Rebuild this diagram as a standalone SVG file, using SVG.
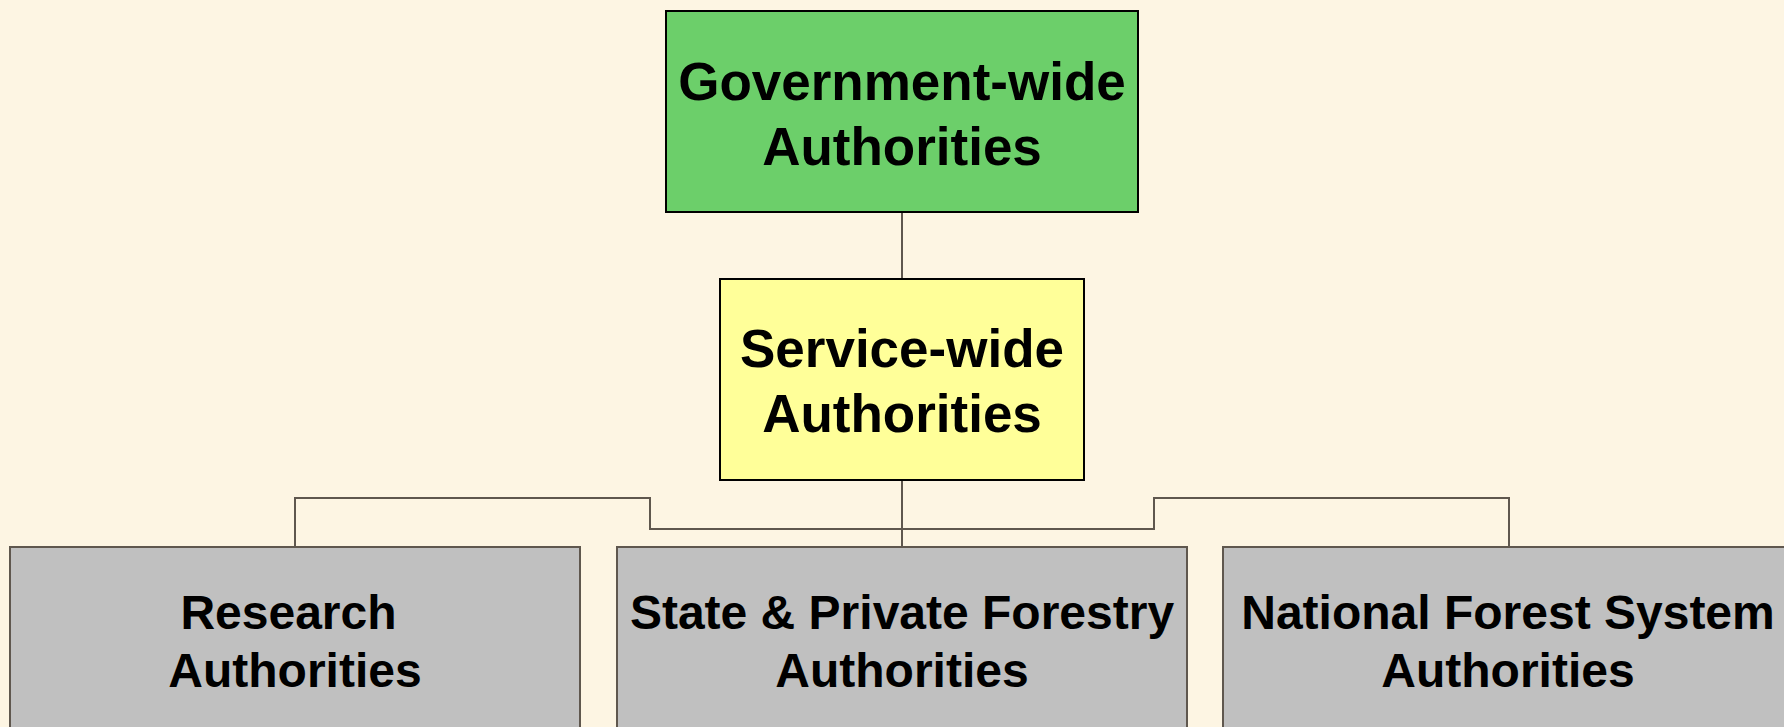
<svg xmlns="http://www.w3.org/2000/svg" width="1784" height="727" viewBox="0 0 1784 727">
<style>
.bg{fill:#fdf5e3}
.box{stroke-width:2}
.gov{fill:#6ccf6a;stroke:#000}
.svc{fill:#ffff99;stroke:#000}
.sub{fill:#c0c0c0;stroke:#5f574e}
.lbl{font-family:"Liberation Sans",Arial,sans-serif;font-weight:bold;fill:#000;text-anchor:middle}
.big{font-size:53px}
.small{font-size:48px}
.conn{fill:none;stroke:#5f574e;stroke-width:2}
</style>
<rect class="bg" x="0" y="0" width="1784" height="727"/>
<g id="connectors">
<path class="conn" d="M902,212 V279"/>
<path class="conn" d="M902,480 V547"/>
<path class="conn" d="M902,529 H650 V498 H295 V547"/>
<path class="conn" d="M902,529 H1154 V498 H1509 V547"/>
</g>
<g id="government-wide">
<rect class="box gov" x="666" y="11" width="472" height="201"/>
<text class="lbl big" x="902" y="100">Government-wide</text>
<text class="lbl big" x="902" y="165">Authorities</text>
</g>
<g id="service-wide">
<rect class="box svc" x="720" y="279" width="364" height="201"/>
<text class="lbl big" x="902" y="367">Service-wide</text>
<text class="lbl big" x="902" y="432">Authorities</text>
</g>
<g id="research">
<rect class="box sub" x="10" y="547" width="570" height="260"/>
<text class="lbl small" x="288.5" y="629">Research</text>
<text class="lbl small" x="295" y="687">Authorities</text>
</g>
<g id="state-private-forestry">
<rect class="box sub" x="617" y="547" width="570" height="260"/>
<text class="lbl small" x="902" y="629">State &amp; Private Forestry</text>
<text class="lbl small" x="902" y="687">Authorities</text>
</g>
<g id="national-forest-system">
<rect class="box sub" x="1223" y="547" width="570" height="260"/>
<text class="lbl small" x="1508" y="629">National Forest System</text>
<text class="lbl small" x="1508" y="687">Authorities</text>
</g>
</svg>
